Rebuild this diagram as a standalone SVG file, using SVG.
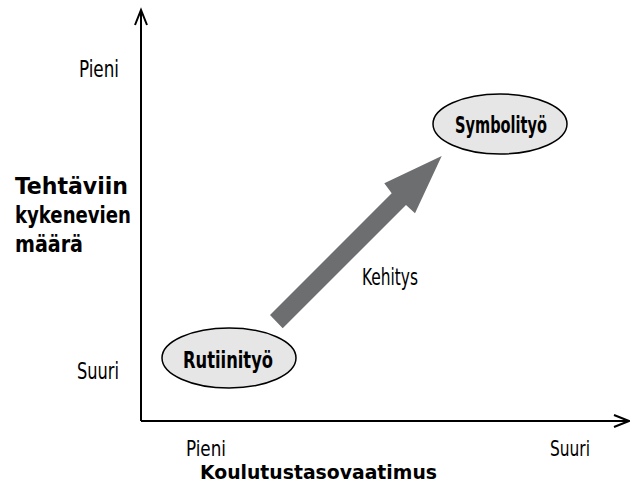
<svg xmlns="http://www.w3.org/2000/svg" width="630" height="485" viewBox="0 0 630 485">
<style>
.t{font-family:"DejaVu Sans Condensed","DejaVu Sans",sans-serif;font-stretch:condensed;font-size:23px;fill:#000}
.b{font-weight:bold}
.ax{stroke:#000;stroke-width:2;fill:none}
.node ellipse{fill:#e6e6e6;stroke:#000;stroke-width:1.5}
</style>
<rect width="630" height="485" fill="#fff"/>
<g id="axes">
<path class="ax" d="M141,421 V10 M141,421 H629"/>
<path class="ax" d="M135,25 L141,10 L147,25"/>
<path class="ax" d="M614,415 L629,421 L614,427"/>
</g>
<g id="connectors">
<polygon points="270,315 391.7,193.3 384.3,183.3 441.7,156 415,213.3 406,205 282.7,328.3" fill="#6d6e70"/>
<text class="t" x="362" y="285" textLength="56" lengthAdjust="spacingAndGlyphs">Kehitys</text>
</g>
<g id="rutiinityo" class="node">
<ellipse cx="229" cy="358" rx="67" ry="30"/>
<text class="t b" x="183" y="368" textLength="90" lengthAdjust="spacingAndGlyphs">Rutiinityö</text>
</g>
<g id="symbolityo" class="node">
<ellipse cx="500" cy="124" rx="67" ry="30"/>
<text class="t b" x="455" y="133" textLength="92" lengthAdjust="spacingAndGlyphs">Symbolityö</text>
</g>
<g id="labels">
<text class="t" x="79" y="77" textLength="40" lengthAdjust="spacingAndGlyphs">Pieni</text>
<text class="t" x="77" y="379" textLength="42" lengthAdjust="spacingAndGlyphs">Suuri</text>
<text class="t b" x="15" y="194" textLength="113" lengthAdjust="spacingAndGlyphs">Tehtäviin</text>
<text class="t b" x="15" y="223" textLength="116" lengthAdjust="spacingAndGlyphs">kykenevien</text>
<text class="t b" x="15" y="252" textLength="68" lengthAdjust="spacingAndGlyphs">määrä</text>
<text class="t" x="186" y="456" textLength="40" lengthAdjust="spacingAndGlyphs" style="font-size:22px">Pieni</text>
<text class="t" x="550" y="456" textLength="40" lengthAdjust="spacingAndGlyphs" style="font-size:22px">Suuri</text>
<text class="t b" x="200" y="479" textLength="237" lengthAdjust="spacingAndGlyphs" style="font-size:20px">Koulutustasovaatimus</text>
</g>
</svg>
